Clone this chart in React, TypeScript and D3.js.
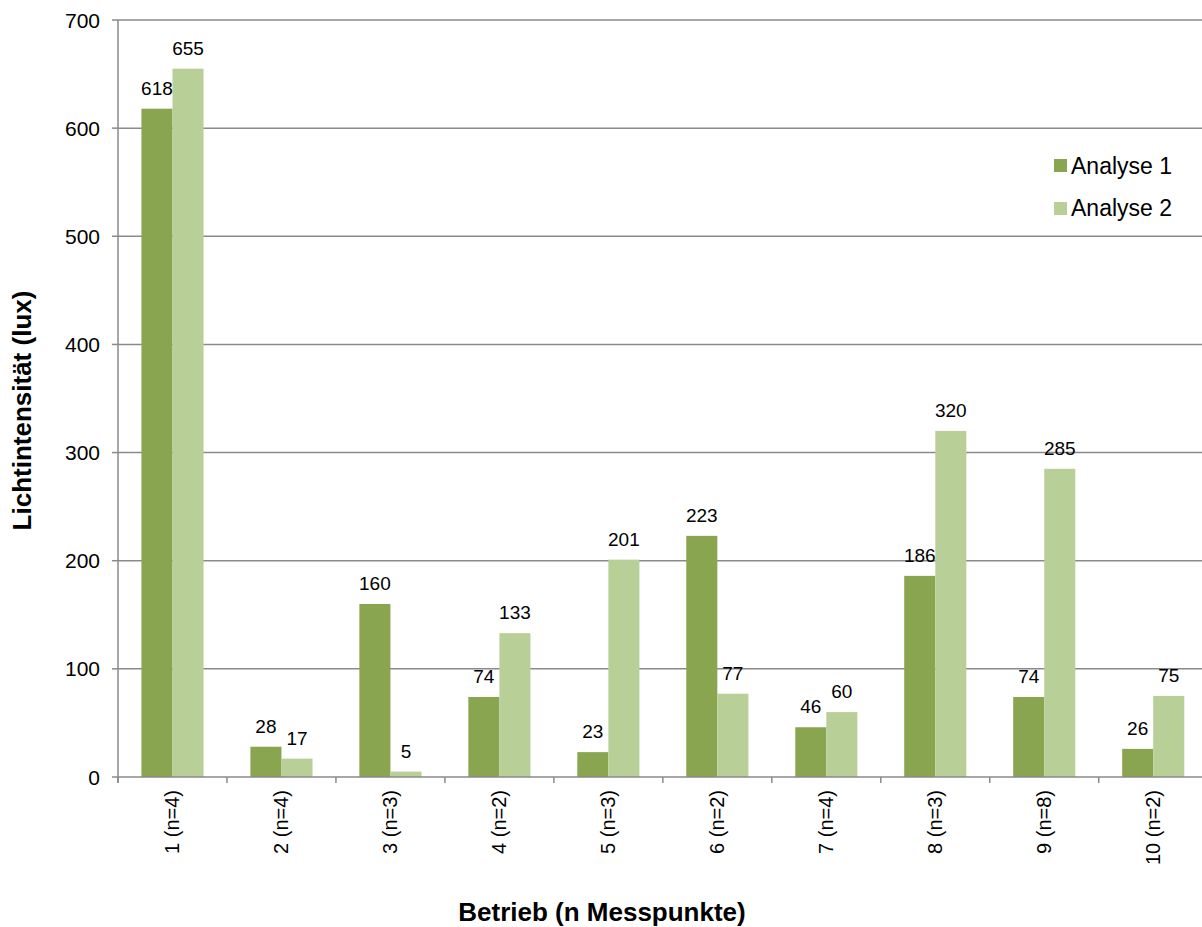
import React from "react";
import * as d3 from "d3";

const categories = ["1 (n=4)", "2 (n=4)", "3 (n=3)", "4 (n=2)", "5 (n=3)", "6 (n=2)", "7 (n=4)", "8 (n=3)", "9 (n=8)", "10 (n=2)"];
const seriesNames = ["Analyse 1", "Analyse 2"];
const analyse1 = [618, 28, 160, 74, 23, 223, 46, 186, 74, 26];
const analyse2 = [655, 17, 5, 133, 201, 77, 60, 320, 285, 75];
const yTicks = [0, 100, 200, 300, 400, 500, 600, 700];
const colors = ["#8aa54f", "#b9cf98"];

const W = 1202;
const H = 927;
const left = 118;
const top = 20;
const bottom = 777;
const right = 118 + 10 * 108.97;
const font = "Arial, 'Liberation Sans', sans-serif";

export default function App() {
  const series = [analyse1, analyse2];
  const x = d3.scaleBand<string>().domain(categories).range([left, right]).paddingInner(0.43).paddingOuter(0.215);
  const xs = d3.scaleBand<number>().domain([0, 1]).range([0, x.bandwidth()]).padding(0);
  const y = d3.scaleLinear().domain([0, 700]).range([bottom, top]);
  const step = x.step();
  const boundaries = d3.range(categories.length + 1).map((i) => left + i * step);
  const gridColor = "#8a8a8a";

  return (
    <svg width={W} height={H} style={{ position: "absolute", left: 0, top: 0, background: "#fff" }} fontFamily={font}>
      <rect x={0} y={0} width={W} height={H} fill="#fff" />
      {yTicks.filter((t) => t > 0).map((t) => (
        <line key={"g" + t} x1={left} x2={W} y1={y(t)} y2={y(t)} stroke={gridColor} strokeWidth={1.5} />
      ))}
      {series.map((vals, si) =>
        vals.map((v, i) => (
          <rect
            key={`b${si}-${i}`}
            x={(x(categories[i]) as number) + (xs(si) as number)}
            y={y(v)}
            width={xs.bandwidth()}
            height={y(0) - y(v)}
            fill={colors[si]}
          />
        ))
      )}
      {series.map((vals, si) =>
        vals.map((v, i) => (
          <text
            key={`l${si}-${i}`}
            x={(x(categories[i]) as number) + (xs(si) as number) + xs.bandwidth() / 2}
            y={y(v) - 14}
            textAnchor="middle"
            fontSize={19}
            fill="#000"
          >
            {v}
          </text>
        ))
      )}
      {/* axes */}
      <line x1={left} x2={left} y1={top} y2={bottom + 6} stroke={gridColor} strokeWidth={1.5} />
      <line x1={left} x2={W} y1={bottom} y2={bottom} stroke={gridColor} strokeWidth={1.5} />
      {yTicks.map((t) => (
        <g key={"t" + t}>
          <line x1={left - 6} x2={left} y1={y(t)} y2={y(t)} stroke={gridColor} strokeWidth={1.5} />
          <text x={100} y={y(t)} dy="0.36em" textAnchor="end" fontSize={21} fill="#000">
            {t}
          </text>
        </g>
      ))}
      {boundaries.map((bx, i) => (
        <line key={"xt" + i} x1={bx} x2={bx} y1={bottom} y2={bottom + 6} stroke={gridColor} strokeWidth={1.5} />
      ))}
      {categories.map((c) => {
        const cx = (x(c) as number) + x.bandwidth() / 2;
        return (
          <text
            key={"c" + c}
            transform={`translate(${cx},790) rotate(-90)`}
            textAnchor="end"
            dy="0.35em"
            fontSize={20}
            fill="#000"
          >
            {c}
          </text>
        );
      })}
      <text
        transform={`translate(31,${(top + bottom) / 2 + 12}) rotate(-90)`}
        textAnchor="middle"
        fontSize={26}
        fontWeight="bold"
        fill="#000"
      >
        Lichtintensität (lux)
      </text>
      <text x={602} y={921} textAnchor="middle" fontSize={26} fontWeight="bold" fill="#000">
        Betrieb (n Messpunkte)
      </text>
      {seriesNames.map((n, i) => (
        <g key={"lg" + n}>
          <rect x={1054} y={159 + i * 43} width={13} height={13} fill={colors[i]} />
          <text x={1071} y={174 + i * 42} fontSize={23} fill="#000">
            {n}
          </text>
        </g>
      ))}
    </svg>
  );
}
